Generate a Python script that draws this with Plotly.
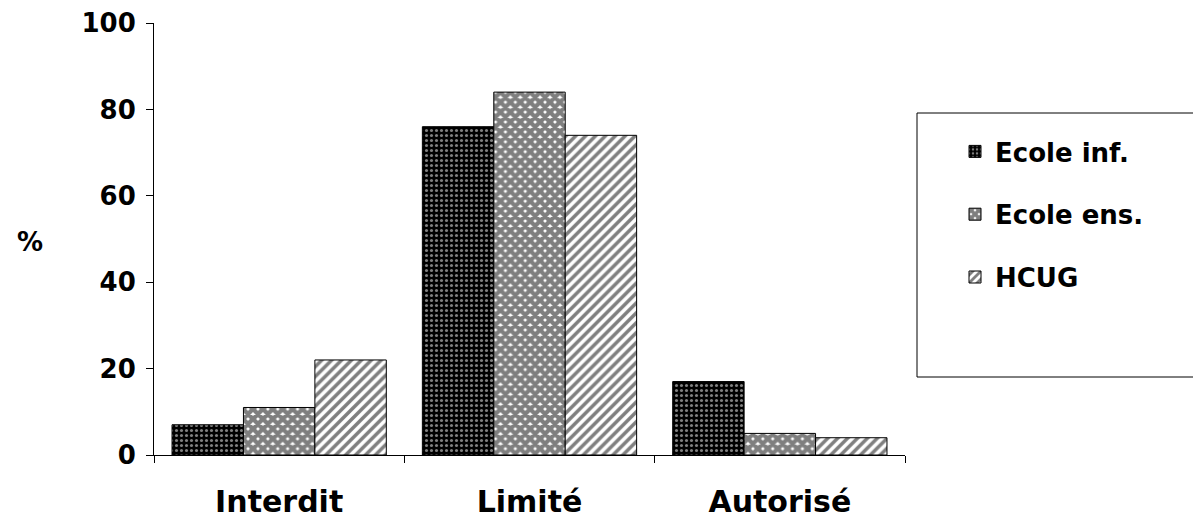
import plotly.graph_objects as go

categories = ["Interdit", "Limité", "Autorisé"]
series_names = ["Ecole inf.", "Ecole ens.", "HCUG"]
ecole_inf = [7, 76, 17]
ecole_ens = [11, 84, 5]
hcug = [22, 74, 4]
y_ticks = [0, 20, 40, 60, 80, 100]

FONT = "DejaVu Sans"

patterns = [
    dict(shape=".", fgcolor="white", bgcolor="black", size=5, solidity=0.3),
    dict(shape="x", fgcolor="black", bgcolor="white", size=7, solidity=0.85),
    dict(shape="/", fgcolor="black", bgcolor="white", size=7, solidity=0.5),
]
values = [ecole_inf, ecole_ens, hcug]

fig = go.Figure()
for i, (name, vals) in enumerate(zip(series_names, values)):
    fig.add_trace(go.Bar(
        x=categories, y=vals, name=name, legendgroup=name,
        marker=dict(color="black" if i == 0 else "white",
                    line=dict(color="black", width=1),
                    pattern=patterns[i]),
    ))

# page body has an 8px margin; work in screen coordinates
OFF = 8
W, H = 1201 - OFF, 523 - OFF
SL, SR, ST, SB = 154, 905, 23, 455  # plot area in screen px
L, T = SL - OFF, ST - OFF
R = W - (SR - OFF)
B = H - (SB - OFF)
pw = SR - SL
ph = SB - ST

def px(x):
    return (x - SL) / pw

def py(y):
    return (SB - y) / ph

fig.update_layout(
    width=W, height=H,
    margin=dict(l=L, r=R, t=T, b=B, pad=0, autoexpand=False),
    paper_bgcolor="white", plot_bgcolor="white",
    barmode="group", bargap=0.144, bargroupgap=0,
    font=dict(family=FONT, size=26, color="black", weight="bold"),
    showlegend=True,
    legend=dict(
        x=px(955), y=py(128), xanchor="left", yanchor="top",
        font=dict(family=FONT, size=26, color="black", weight="bold"),
        bgcolor="rgba(0,0,0,0)", borderwidth=0,
        tracegroupgap=26, itemwidth=30,
    ),
    xaxis=dict(
        showline=True, linecolor="black", linewidth=1, automargin=False,
        ticks="outside", ticklen=7, tickcolor="black", tickson="boundaries",
        tickfont=dict(family=FONT, size=30, color="black", weight="bold"),
        ticklabelstandoff=20, showgrid=False, zeroline=False,
        range=[-0.5, 2.5],
    ),
    yaxis=dict(
        range=[0, 100], tickvals=y_ticks, automargin=False,
        showline=True, linecolor="black", linewidth=1,
        ticks="outside", ticklen=7, tickcolor="black",
        tickfont=dict(family=FONT, size=26, color="black", weight="bold"),
        ticklabelstandoff=5, showgrid=False, zeroline=False,
    ),
    shapes=[dict(type="rect", xref="paper", yref="paper",
                 x0=px(917), x1=px(1195), y0=py(377), y1=py(113),
                 line=dict(color="black", width=1), fillcolor="rgba(0,0,0,0)")],
    annotations=[dict(text="%", xref="paper", yref="paper",
                      x=px(30), y=py(242), xanchor="center", yanchor="middle",
                      showarrow=False,
                      font=dict(family=FONT, size=26, color="black", weight="bold"))],
)

fig.write_html("out.html")
